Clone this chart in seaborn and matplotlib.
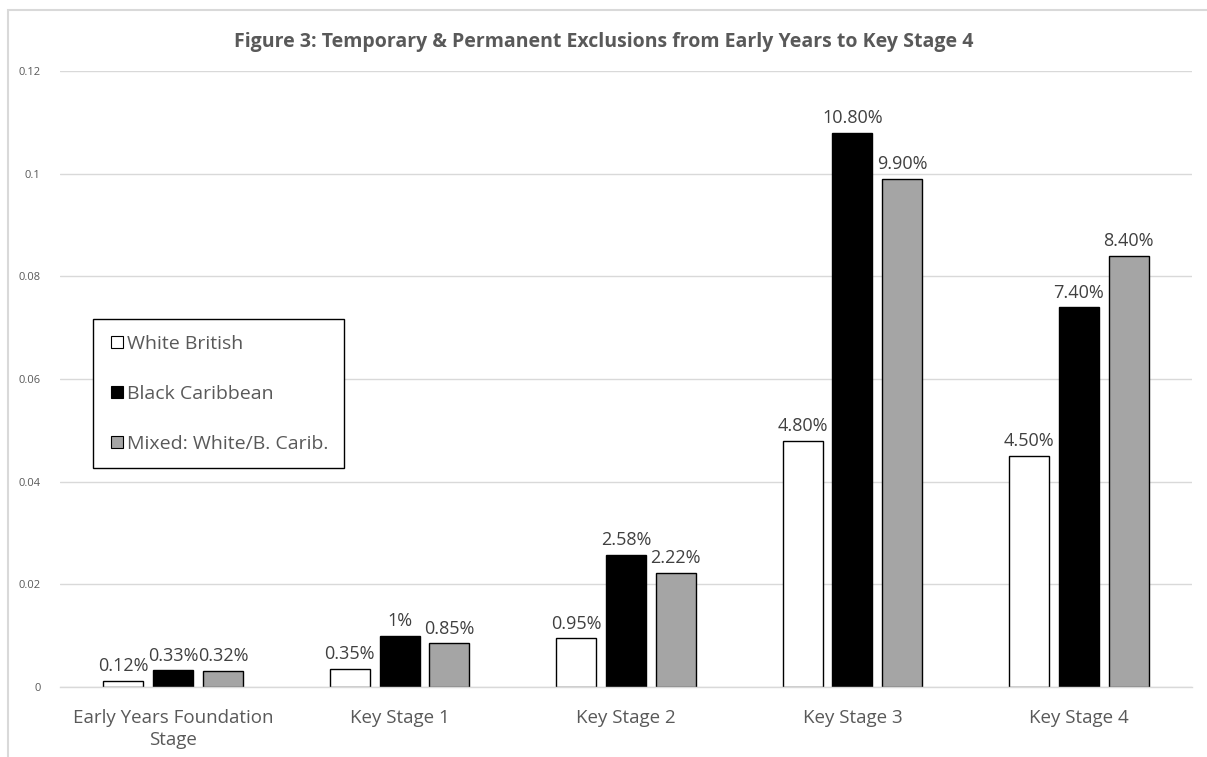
import matplotlib
matplotlib.use("Agg")
import matplotlib.pyplot as plt
from matplotlib.lines import Line2D
from matplotlib.patches import Rectangle
import seaborn as sns
import pandas as pd

categories = ["Early Years Foundation\nStage", "Key Stage 1", "Key Stage 2", "Key Stage 3", "Key Stage 4"]
groups = ["White British", "Black Caribbean", "Mixed: White/B. Carib."]
white_british = [0.0012, 0.0035, 0.0095, 0.048, 0.045]
black_caribbean = [0.0033, 0.010, 0.0258, 0.108, 0.074]
mixed = [0.0032, 0.0085, 0.0222, 0.099, 0.084]
wb_labels = ["0.12%", "0.35%", "0.95%", "4.80%", "4.50%"]
bc_labels = ["0.33%", "1%", "2.58%", "10.80%", "7.40%"]
mx_labels = ["0.32%", "0.85%", "2.22%", "9.90%", "8.40%"]
yticks = [0, 0.02, 0.04, 0.06, 0.08, 0.1, 0.12]
ytick_labels = ["0", "0.02", "0.04", "0.06", "0.08", "0.1", "0.12"]

colors = ["#ffffff", "#000000", "#a5a5a5"]
text_color = "#595959"

rows = []
for vals, labs, g in [(white_british, wb_labels, groups[0]),
                      (black_caribbean, bc_labels, groups[1]),
                      (mixed, mx_labels, groups[2])]:
    for c, v, l in zip(categories, vals, labs):
        rows.append({"Stage": c, "Group": g, "Value": v, "Label": l})
df = pd.DataFrame(rows)

sns.set_theme(style="white")
plt.rcParams["font.family"] = ["Open Sans", "DejaVu Sans"]

fig = plt.figure(figsize=(12.07, 7.57), dpi=100)
ax = fig.add_axes([60/1207, 1-687/757, 1132/1207, 616/757])

sns.barplot(data=df, x="Stage", y="Value", hue="Group", hue_order=groups,
            palette=colors, width=0.66, gap=0.2, edgecolor="black",
            linewidth=1.0, ax=ax, legend=False)

for cont, labs in zip(ax.containers, [wb_labels, bc_labels, mx_labels]):
    ax.bar_label(cont, labels=labs, padding=4, fontsize=13, color="#404040")

ax.set_ylim(0, 0.12)
ax.set_xlim(-0.5, 4.5)
ax.set_yticks(yticks)
ax.set_yticklabels(ytick_labels, fontsize=8, color=text_color)
ax.tick_params(axis="y", length=0, pad=14)
ax.tick_params(axis="x", length=0, pad=16, labelsize=13.5, labelcolor=text_color)
for t in ax.get_xticklabels():
    t.set_linespacing(1.3)
ax.set_xlabel("")
ax.set_ylabel("")
ax.yaxis.grid(True, color="#d9d9d9", linewidth=1)
ax.set_axisbelow(True)
for s in ["top", "right", "left"]:
    ax.spines[s].set_visible(False)
ax.spines["bottom"].set_color("#d9d9d9")
ax.spines["bottom"].set_linewidth(1)

fig.text(0.5, 1-42/757, "Figure 3: Temporary & Permanent Exclusions from Early Years to Key Stage 4",
         ha="center", va="center", fontsize=14, fontweight="bold", color=text_color)

handles = [Line2D([0], [0], marker="s", linestyle="none", markersize=9,
                  markerfacecolor=c, markeredgecolor="black", markeredgewidth=0.8)
           for c in colors]
leg = fig.legend(handles, groups, loc="upper left",
                 bbox_to_anchor=(93/1207, 1-319/757), frameon=True,
                 fontsize=14, labelspacing=1.65, handletextpad=0.05,
                 handlelength=0.9, borderpad=0.8, borderaxespad=0)
for t in leg.get_texts():
    t.set_color(text_color)
leg.get_frame().set_edgecolor("black")
leg.get_frame().set_linewidth(1)
leg.get_frame().set_boxstyle("square", pad=0)
leg.get_frame().set_alpha(1)

fig.patches.append(Rectangle((8/1207, -0.1), 1.2, 1-10/757 + 0.1, transform=fig.transFigure,
                             fill=False, edgecolor="#d9d9d9", linewidth=1.5))

fig.savefig("out.png", dpi=100)
